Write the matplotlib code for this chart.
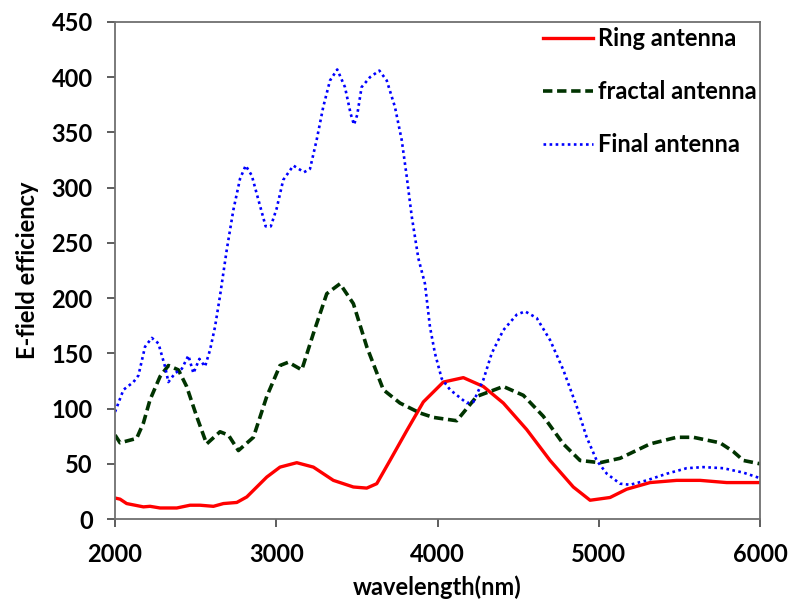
import matplotlib.pyplot as plt
from matplotlib.ticker import MultipleLocator

plt.rcParams['font.family'] = ['Lato', 'DejaVu Sans']
plt.rcParams['font.weight'] = 'bold'

# values
ring_x = [2000, 2031, 2072, 2176, 2217, 2279, 2383, 2465, 2527, 2610, 2672, 2755, 2817,
          2941, 3023, 3127, 3230, 3354, 3478, 3561, 3623, 3705, 3809, 3912, 4036, 4160,
          4284, 4408, 4553, 4698, 4842, 4946, 5070, 5173, 5318, 5483, 5628, 5793, 6000]
ring_y = [19, 18, 14, 11, 11.5, 10, 10, 12.5, 12.5, 11.5, 14, 15, 20,
          38, 47, 51, 47, 35, 29, 28, 32, 53, 80, 106, 124, 128,
          120, 105, 81, 53, 29, 17, 19.5, 27, 33, 35, 35, 33, 33]

fractal_x = [2000, 2031, 2134, 2176, 2217, 2279, 2331, 2393, 2444, 2506, 2568, 2651, 2703,
             2765, 2858, 2941, 3023, 3075, 3158, 3230, 3313, 3395, 3478, 3561, 3664, 3767,
             3891, 3974, 4119, 4243, 4408, 4532, 4656, 4780, 4884, 5008, 5132, 5318, 5483,
             5586, 5752, 5835, 5897, 6000]
fractal_y = [76, 69, 73, 87, 108, 129, 139, 135, 120, 93, 68, 79, 76,
             62, 74, 111, 139, 142, 135, 168, 204, 213, 195, 156, 117, 105,
             96, 92, 89, 111, 120, 112, 93, 68, 53, 51, 55, 68, 74,
             74, 69, 61, 53, 50]

final_x = [2000, 2052, 2114, 2145, 2186, 2228, 2269, 2310, 2331, 2372, 2414, 2455, 2486,
           2523, 2558, 2589, 2620, 2651, 2693, 2734, 2775, 2810, 2848, 2889, 2934, 2966,
           3002, 3043, 3106, 3172, 3209, 3250, 3291, 3333, 3378, 3426, 3461, 3482, 3502,
           3529, 3581, 3639, 3685, 3736, 3778, 3809, 3840, 3881, 3922, 3953, 3984, 4026,
           4078, 4181, 4222, 4284, 4336, 4408, 4491, 4543, 4615, 4698, 4780, 4863, 4925,
           4987, 5050, 5132, 5194, 5297, 5421, 5545, 5648, 5773, 5897, 6000]
final_y = [97, 117, 124, 130, 156, 164, 159, 138, 124, 132, 136, 148, 132,
           145, 138, 153, 174, 202, 244, 280, 308, 320, 311, 289, 265, 265,
           281, 307, 320, 314, 317, 343, 373, 397, 407, 391, 367, 357, 366,
           391, 400, 406, 397, 373, 343, 310, 274, 236, 213, 174, 150, 127,
           117, 105, 106, 126, 150, 171, 185, 188, 182, 162, 135, 102, 74,
           53, 41, 32, 31, 35, 41, 46, 47, 46, 42, 37]

fig = plt.figure(figsize=(7.88, 6.01), dpi=100)
ax = fig.add_axes([0.146, 0.1364, 0.8185, 0.827])

ax.plot(ring_x, ring_y, color='#ff0000', lw=2.4, label='Ring antenna')
ax.plot(fractal_x, fractal_y, color='#003300', lw=2.6, dashes=(2.6, 1.3),
        label='fractal antenna')
ax.plot(final_x, final_y, color='#0000ff', lw=1.9, linestyle=(0, (1, 1.3)),
        label='Final antenna')

ax.set_xlim(2000, 6000)
ax.set_ylim(0, 450)
ax.xaxis.set_major_locator(MultipleLocator(1000))
ax.yaxis.set_major_locator(MultipleLocator(50))

for s in ax.spines.values():
    s.set_color('#707070')
    s.set_linewidth(1.3)
ax.tick_params(axis='both', direction='out', length=6, width=1.3, color='#505050',
               labelsize=17)
ax.tick_params(axis='x', pad=11)
ax.tick_params(axis='y', pad=10)

ax.set_xlabel('wavelength(nm)', fontsize=17, fontweight='bold', labelpad=7)
ax.set_ylabel('E-field efficiency', fontsize=17, fontweight='bold', labelpad=9)

ax.legend(loc='upper left', bbox_to_anchor=(0.664, 0.99), frameon=False,
          fontsize=17, handlelength=2.1, handletextpad=0.2, labelspacing=1.27,
          borderaxespad=0, borderpad=0)

fig.savefig('out.png', dpi=100)
